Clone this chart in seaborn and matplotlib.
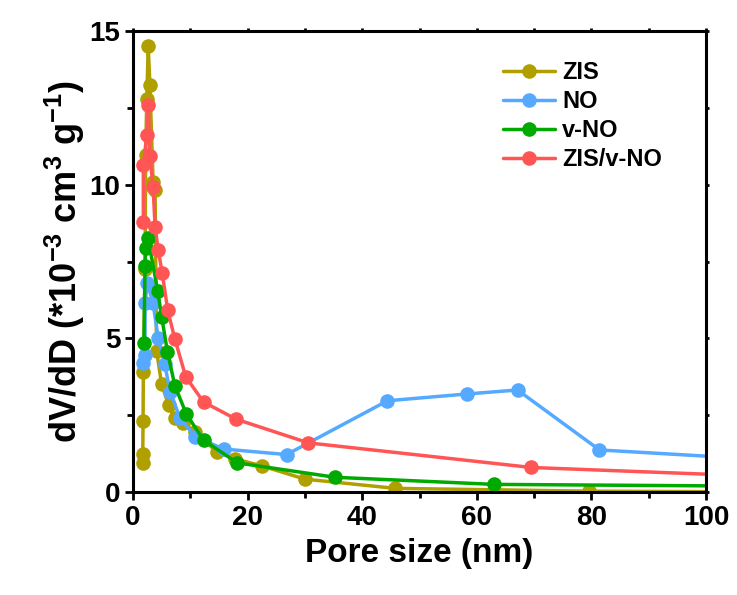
import numpy as np
import pandas as pd
import matplotlib
matplotlib.use("Agg")
import matplotlib.pyplot as plt
import seaborn as sns
from matplotlib.ticker import MultipleLocator
from matplotlib.lines import Line2D

# ---- data ----
zis_x = [1.7, 1.7, 1.75, 1.8, 2.1, 2.2, 2.4, 2.65, 2.95, 3.5, 3.85, 4.1, 5.0, 6.2, 7.3, 8.8, 10.8, 14.6, 17.8, 22.5, 30.0, 45.8, 79.5, 110]
zis_y = [0.95, 1.25, 2.3, 3.9, 7.25, 10.97, 12.8, 14.5, 13.24, 10.1, 9.83, 4.6, 3.5, 2.83, 2.4, 2.25, 1.96, 1.31, 1.08, 0.85, 0.42, 0.12, 0.03, 0.005]

no_x = [1.8, 2.1, 2.1, 2.5, 3.5, 4.4, 5.5, 6.5, 8.2, 10.9, 15.8, 26.8, 44.4, 58.2, 67.1, 81.4, 110]
no_y = [4.19, 4.46, 6.14, 6.8, 6.14, 5.0, 4.17, 3.26, 2.4, 1.8, 1.4, 1.22, 2.97, 3.19, 3.32, 1.37, 1.06]

vno_x = [1.9, 2.1, 2.2, 2.6, 4.3, 5.0, 6.0, 7.3, 9.3, 12.3, 18.2, 35.3, 63.0, 110]
vno_y = [4.84, 7.35, 7.93, 8.28, 6.55, 5.7, 4.57, 3.46, 2.54, 1.69, 0.95, 0.48, 0.25, 0.19]

zvno_x = [1.8, 1.8, 2.4, 2.65, 2.95, 3.5, 3.85, 4.4, 5.1, 6.05, 7.3, 9.2, 12.3, 18.0, 30.6, 69.5, 110]
zvno_y = [8.8, 10.64, 11.6, 12.6, 10.93, 9.93, 8.63, 7.87, 7.12, 5.92, 4.98, 3.75, 2.93, 2.37, 1.6, 0.80, 0.51]

series_names = ["ZIS", "NO", "v-NO", "ZIS/v-NO"]
series_colors = ["#AFA000", "#55AAFF", "#00AA00", "#FF5555"]

frames = []
for name, xs, ys in zip(series_names, [zis_x, no_x, vno_x, zvno_x], [zis_y, no_y, vno_y, zvno_y]):
    frames.append(pd.DataFrame({"x": xs, "y": ys, "sample": name}))
df = pd.concat(frames, ignore_index=True)

sns.set_style("ticks")
plt.rcParams["font.family"] = ["Liberation Sans", "DejaVu Sans"]
plt.rcParams["font.weight"] = "bold"
plt.rcParams["mathtext.fontset"] = "custom"
plt.rcParams["mathtext.rm"] = "Liberation Sans:bold"
plt.rcParams["mathtext.bf"] = "Liberation Sans:bold"
plt.rcParams["mathtext.it"] = "Liberation Sans:bold"
plt.rcParams["mathtext.default"] = "bf"
for k in ["text.color", "axes.labelcolor", "xtick.color", "ytick.color", "axes.edgecolor"]:
    plt.rcParams[k] = "black"

fig = plt.figure(figsize=(7.37, 5.95), dpi=100)
ax = fig.add_axes([0.1805, 0.173, 0.958 - 0.1805, 0.948 - 0.173])

sns.lineplot(data=df, x="x", y="y", hue="sample", hue_order=series_names,
             palette=series_colors, sort=False, estimator=None, units="sample",
             marker="o", markersize=10.5, markeredgewidth=0, linewidth=2.5,
             ax=ax, legend=False)

ax.set_xlim(0, 100)
ax.set_ylim(0, 15)
ax.xaxis.set_major_locator(MultipleLocator(20))
ax.xaxis.set_minor_locator(MultipleLocator(10))
ax.yaxis.set_major_locator(MultipleLocator(5))
ax.yaxis.set_minor_locator(MultipleLocator(2.5))

for s in ax.spines.values():
    s.set_linewidth(2.2)
    s.set_color("black")

ax.tick_params(axis="both", which="major", direction="out", length=6, width=2,
               labelsize=20, pad=3, colors="black")
ax.tick_params(axis="both", which="minor", direction="out", length=4, width=2,
               colors="black")
ax.tick_params(top=True, right=True, which="both")
for t in ax.xaxis.get_major_ticks() + ax.xaxis.get_minor_ticks():
    t.tick2line.set_markersize(2.5)
for t in ax.yaxis.get_major_ticks() + ax.yaxis.get_minor_ticks():
    t.tick2line.set_markersize(2.5)
for lab in ax.get_xticklabels() + ax.get_yticklabels():
    lab.set_fontweight("bold")
    lab.set_color("black")

ax.set_xlabel("Pore size (nm)", fontsize=24, fontweight="bold", labelpad=5, color="black")
ax.set_ylabel(r"dV/dD (*10$^{-3}$ cm$^{3}$ g$^{-1}$)", fontsize=26,
              fontweight="bold", labelpad=2, color="black")

handles = [Line2D([0], [0], color=c, marker="o", markersize=10.5, markeredgewidth=0,
                  linewidth=2.5) for c in series_colors]
leg = ax.legend(handles, series_names, loc="upper right", bbox_to_anchor=(0.96, 0.98),
                frameon=False, handlelength=2.2, handletextpad=0.3,
                labelspacing=0.25, prop={"weight": "bold", "size": 17})
for txt in leg.get_texts():
    txt.set_color("black")

fig.savefig("out.png", dpi=100)
